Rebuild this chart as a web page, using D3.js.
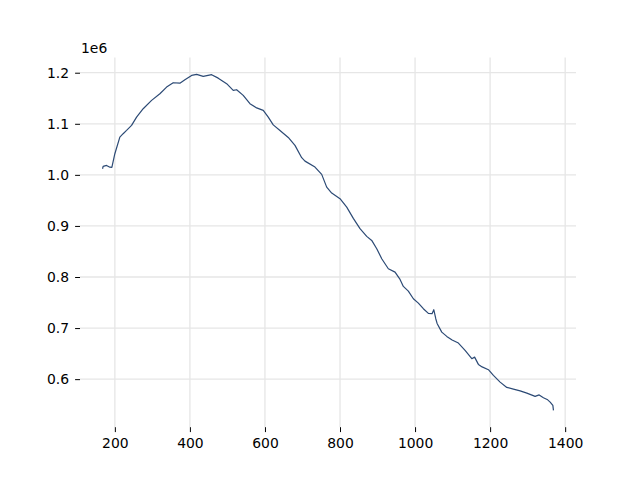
<!DOCTYPE html>
<html>
<head>
<meta charset="utf-8">
<script src="https://cdn.jsdelivr.net/npm/d3@7"></script>
<style>
  html, body { margin: 0; padding: 0; background: #fff; }
  svg { display: block; }
  text { font-family: "DejaVu Sans", sans-serif; font-size: 13.9px; fill: #000; }
</style>
</head>
<body>
<svg id="chart" width="640" height="480"></svg>
<script>
// Data (y values in units of 1e6)
const xValues = [167.2, 168.8, 177.9, 186.7, 192, 200, 213.3, 222.1, 231.2, 244.5,
  257.9, 275.5, 297.9, 320, 337.9, 355.5, 373.3, 386.7, 404.5, 417.9,
  435.5, 457.9, 475.5, 497.9, 515.5, 524.5, 542.1, 560, 577.9, 595.5,
  608.8, 622.1, 640, 662.1, 680, 697.9, 706.7, 733.3, 751.2, 764.5,
  777.9, 800, 817.9, 835.5, 853.3, 871.2, 884.5, 897.9, 911.2, 928.8,
  946.7, 960, 968.8, 982.1, 995.5, 1008.8, 1022.1, 1035.5, 1045.3, 1049.9,
  1055.2, 1058.7, 1071.2, 1084.5, 1098.7, 1115.5, 1133.3, 1151.2, 1158.7, 1168.8,
  1178.7, 1195.5, 1208.8, 1226.7, 1244.5, 1262.1, 1280, 1297.9, 1320, 1330.7,
  1342.1, 1352, 1360, 1367.2, 1368.8];
const yValues = [1.012, 1.0165, 1.0185, 1.015, 1.0146, 1.0414, 1.0739, 1.0806, 1.087, 1.0968,
  1.1131, 1.1295, 1.1458, 1.1589, 1.1718, 1.1804, 1.1796, 1.1863, 1.1947, 1.1967,
  1.1928, 1.1961, 1.1894, 1.1785, 1.1653, 1.1667, 1.1556, 1.1393, 1.1311, 1.1262,
  1.1131, 1.0978, 1.087, 1.0733, 1.0577, 1.0336, 1.0269, 1.0152, 1.0009, 0.976,
  0.9643, 0.9533, 0.9368, 0.9147, 0.8946, 0.8795, 0.8716, 0.8554, 0.8358, 0.8162,
  0.8096, 0.7953, 0.7816, 0.7724, 0.7575, 0.7489, 0.7379, 0.7287, 0.7281, 0.736,
  0.7183, 0.7091, 0.6921, 0.6837, 0.6768, 0.6706, 0.6562, 0.640, 0.6431, 0.6289,
  0.624, 0.6185, 0.6073, 0.5942, 0.5838, 0.5805, 0.577, 0.5727, 0.5662, 0.5691,
  0.5637, 0.5603, 0.555, 0.5486, 0.5388];
const xTicks = [200, 400, 600, 800, 1000, 1200, 1400];
const yTicks = [0.6, 0.7, 0.8, 0.9, 1.0, 1.1, 1.2];
const offsetLabel = "1e6";

const data = xValues.map((x, i) => ({ x: x, y: yValues[i] * 1e6 }));

const plotLeft = 80, plotRight = 576, plotTop = 57.6, plotBottom = 427.2;

function padded(ext) {
  const m = (ext[1] - ext[0]) * 0.05;
  return [ext[0] - m, ext[1] + m];
}
const xScale = d3.scaleLinear().domain(padded(d3.extent(data, d => d.x))).range([plotLeft, plotRight]);
const yScale = d3.scaleLinear().domain(padded(d3.extent(data, d => d.y))).range([plotBottom, plotTop]);

const svg = d3.select("#chart");

// grid
const grid = svg.append("g").attr("stroke", "#e6e6e6").attr("stroke-width", 1.3);
grid.selectAll("line.v").data(xTicks).join("line").attr("class", "v")
  .attr("x1", d => xScale(d)).attr("x2", d => xScale(d))
  .attr("y1", plotTop).attr("y2", plotBottom);
grid.selectAll("line.h").data(yTicks).join("line").attr("class", "h")
  .attr("x1", plotLeft).attr("x2", plotRight)
  .attr("y1", d => yScale(d * 1e6)).attr("y2", d => yScale(d * 1e6));

// axes (no spines)
const xAxis = d3.axisBottom(xScale).tickValues(xTicks).tickSize(4.9).tickPadding(6).tickFormat(d3.format("d"));
const gx = svg.append("g").attr("transform", `translate(0,${plotBottom})`).call(xAxis);
gx.select(".domain").remove();
gx.selectAll("line").attr("stroke", "#000").attr("stroke-width", 1);
gx.selectAll("text").attr("font-family", "DejaVu Sans").attr("font-size", 13.9).attr("fill", "#000");

const yAxis = d3.axisLeft(yScale).tickValues(yTicks.map(v => v * 1e6)).tickSize(4.9).tickPadding(6)
  .tickFormat(d => (d / 1e6).toFixed(1));
const gy = svg.append("g").attr("transform", `translate(${plotLeft},0)`).call(yAxis);
gy.select(".domain").remove();
gy.selectAll("line").attr("stroke", "#000").attr("stroke-width", 1);
gy.selectAll("text").attr("font-family", "DejaVu Sans").attr("font-size", 13.9).attr("fill", "#000");

// offset text
svg.append("text").attr("x", plotLeft + 1).attr("y", 53).text(offsetLabel);

// line
const line = d3.line().x(d => xScale(d.x)).y(d => yScale(d.y));
svg.append("path").datum(data)
  .attr("fill", "none").attr("stroke", "#2c4a75").attr("stroke-width", 1.2)
  .attr("stroke-linejoin", "round")
  .attr("d", line);
</script>
</body>
</html>
